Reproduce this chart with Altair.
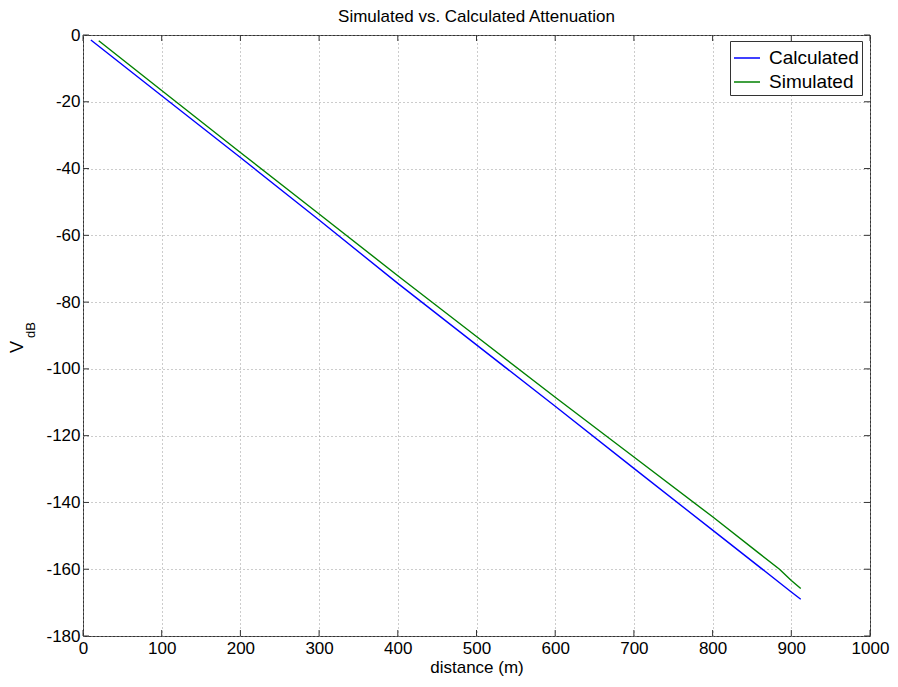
import altair as alt
import pandas as pd

calc_dist = [10, 100, 200, 300, 400, 500, 600, 700, 800, 900, 912]
calc_vals = [-1.5, -18.2, -36.7, -55.4, -74.4, -92.8, -111.2, -129.8, -148.3, -166.8, -169.0]

sim_dist = [20, 100, 200, 300, 400, 500, 600, 700, 800, 860, 885, 900, 912]
sim_vals = [-1.7, -16.6, -35.2, -53.6, -72.1, -90.3, -108.5, -126.4, -144.3, -155.4, -160.0, -163.4, -165.8]

x_ticks = [0, 100, 200, 300, 400, 500, 600, 700, 800, 900, 1000]
y_ticks = [0, -20, -40, -60, -80, -100, -120, -140, -160, -180]

series_names = ["Calculated", "Simulated"]
series_colors = ["#0000ff", "#008000"]

W, H = 787, 601
FONT = "Liberation Sans"

df = pd.DataFrame({
    "distance": calc_dist + sim_dist,
    "vdb": calc_vals + sim_vals,
    "series": ["Calculated"] * len(calc_dist) + ["Simulated"] * len(sim_dist),
})
xt = pd.DataFrame({"t": x_ticks})
yt = pd.DataFrame({"t": y_ticks})

xs = alt.Scale(domain=[0, 1000], nice=False, zero=False)
ys = alt.Scale(domain=[-180, 0], nice=False, zero=False)

lines = alt.Chart(df).mark_line(strokeWidth=1.4).encode(
    x=alt.X("distance:Q", scale=xs, title="distance (m)",
            axis=alt.Axis(values=x_ticks, grid=True, ticks=False, domain=False,
                          labelPadding=4, titlePadding=3, labelFlush=False,
                          labelExpr="toString(datum.value)")),
    y=alt.Y("vdb:Q", scale=ys, title=None,
            axis=alt.Axis(values=y_ticks, grid=True, ticks=False, domain=False,
                          labelPadding=3, labelFlush=False,
                          labelExpr="toString(datum.value)")),
    color=alt.Color("series:N",
                    scale=alt.Scale(domain=series_names, range=series_colors),
                    legend=alt.Legend(title=None, orient="none", legendX=647, legendY=6,
                                      symbolType="stroke", symbolSize=676,
                                      symbolStrokeWidth=1.5, labelFontSize=19,
                                      labelFont=FONT, labelColor="#000",
                                      strokeColor="#333", fillColor="white",
                                      padding=3, rowPadding=0, labelOffset=8,
                                      cornerRadius=0)),
    order="distance:Q",
)

tick_color = "#333"
xb = alt.Chart(xt).mark_rule(color=tick_color, strokeWidth=1).encode(
    x=alt.X("t:Q", scale=xs), y=alt.value(H), y2=alt.value(H - 6))
xtop = alt.Chart(xt).mark_rule(color=tick_color, strokeWidth=1).encode(
    x=alt.X("t:Q", scale=xs), y=alt.value(0), y2=alt.value(6))
yl = alt.Chart(yt).mark_rule(color=tick_color, strokeWidth=1).encode(
    y=alt.Y("t:Q", scale=ys), x=alt.value(0), x2=alt.value(6))
yr = alt.Chart(yt).mark_rule(color=tick_color, strokeWidth=1).encode(
    y=alt.Y("t:Q", scale=ys), x=alt.value(W), x2=alt.value(W - 6))

lab_df = pd.DataFrame({"txt": ["V"]})
v_lab = alt.Chart(lab_df).mark_text(angle=270, fontSize=18, font=FONT, color="#000",
                                   align="center", baseline="middle").encode(
    text="txt:N", x=alt.value(-65), y=alt.value(312))
db_df = pd.DataFrame({"txt": ["dB"]})
db_lab = alt.Chart(db_df).mark_text(angle=270, fontSize=13, font=FONT, color="#000",
                                   align="center", baseline="middle").encode(
    text="txt:N", x=alt.value(-52), y=alt.value(295))

chart = alt.layer(lines, xb, xtop, yl, yr, v_lab, db_lab).properties(
    width=W, height=H,
    title=alt.TitleParams("Simulated vs. Calculated Attenuation", fontSize=17,
                          font=FONT, fontWeight="normal", color="#000",
                          anchor="middle", offset=0),
    autosize=alt.AutoSizeParams(type="none"),
    padding={"left": 75, "top": 27, "right": 20, "bottom": 42},
).configure_view(stroke="#333", strokeWidth=1).configure_axis(
    labelFont=FONT, labelFontSize=17, labelColor="#000",
    titleFont=FONT, titleFontSize=17, titleColor="#000", titleFontWeight="normal",
    gridColor="#999", gridDash=[1, 3], gridWidth=1, gridOpacity=1,
)

chart.save("out.html", embed_options={"renderer": "svg", "actions": False})
